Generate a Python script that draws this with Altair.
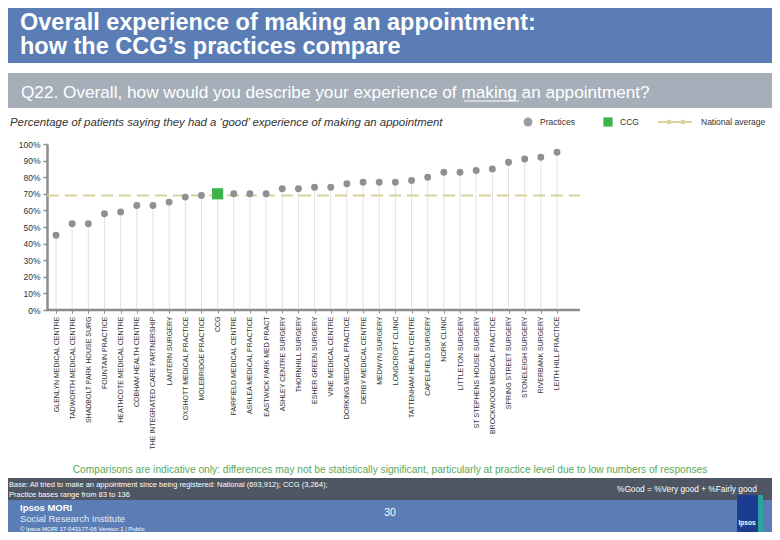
import altair as alt
import pandas as pd

# ---------------- data ----------------
names = [
    "GLENLYN MEDICAL CENTRE", "TADWORTH MEDICAL CENTRE", "SHADBOLT PARK HOUSE SURG",
    "FOUNTAIN PRACTICE", "HEATHCOTE MEDICAL CENTRE", "COBHAM HEALTH CENTRE",
    "THE INTEGRATED CARE PARTNERSHIP", "LANTERN SURGERY", "OXSHOTT MEDICAL PRACTICE",
    "MOLEBRIDGE PRACTICE", "CCG", "FAIRFIELD MEDICAL CENTRE", "ASHLEA MEDICAL PRACTICE",
    "EASTWICK PARK MED PRACT", "ASHLEY CENTRE SURGERY", "THORNHILL SURGERY",
    "ESHER GREEN SURGERY", "VINE MEDICAL CENTRE", "DORKING MEDICAL PRACTICE",
    "DERBY MEDICAL CENTRE", "MEDWYN SURGERY", "LONGCROFT CLINIC",
    "TATTENHAM HEALTH CENTRE", "CAPELFIELD SURGERY", "NORK CLINIC", "LITTLETON SURGERY",
    "ST STEPHENS HOUSE SURGERY", "BROCKWOOD MEDICAL PRACTICE", "SPRING STREET SURGERY",
    "STONELEIGH SURGERY", "RIVERBANK SURGERY", "LEITH HILL PRACTICE",
]
values = [45, 52, 52, 58, 59, 63, 63, 65, 68, 69, 70, 70, 70, 70, 73, 73,
          74, 74, 76, 77, 77, 77, 78, 80, 83, 83, 84, 85, 89, 91, 92, 95]
kinds = ["CCG" if n == "CCG" else "Practice" for n in names]
national_avg = 69
y_ticks = [0, 10, 20, 30, 40, 50, 60, 70, 80, 90, 100]

df = pd.DataFrame({"name": names, "pct": values, "kind": kinds})
nat_df = pd.DataFrame({"pct": [national_avg]})
one = pd.DataFrame({"k": [0]})

FONT = "Liberation Sans"
GRAY_AX = "#8c8c8c"

x_enc = alt.X("name:N", sort=None,
              scale=alt.Scale(type="point", padding=0.557),
              axis=alt.Axis(title=None, labelAngle=270, labelFontSize=7, labelColor="#333333",
                            labelFont=FONT, labelPadding=3, labelLimit=300, labelOverlap=False,
                            domain=False, ticks=True, tickColor=GRAY_AX, tickSize=3))
y_axis = alt.Axis(title=None, values=y_ticks,
                  labelExpr="datum.value + '%'", grid=False, labelOverlap=False,
                  domainColor=GRAY_AX, domainWidth=2.5, tickColor=GRAY_AX,
                  tickSize=4, tickWidth=1.5, labelFontSize=8.5, labelColor="#333333",
                  labelFont=FONT, labelPadding=3)
y_enc = alt.Y("pct:Q", scale=alt.Scale(domain=[0, 100]), axis=y_axis)

base = alt.Chart(df)

drops = base.mark_rule(color="#e2e2e2", strokeWidth=1).encode(
    x=x_enc, y=y_enc, y2=alt.datum(0))

nat_line = alt.Chart(nat_df).mark_rule(color="#d9d29c", strokeWidth=2, strokeDash=[12, 6]).encode(
    y=y_enc, x=alt.value(0), x2=alt.value(533))

x_axis_line = alt.Chart(one).mark_rule(color=GRAY_AX, strokeWidth=2.5).encode(
    x=alt.value(0), x2=alt.value(533), y=alt.value(166))

practices = base.transform_filter("datum.kind == 'Practice'").mark_circle(
    color="#8d9096", opacity=1, size=48).encode(x=x_enc, y=y_enc)
ccg = base.transform_filter("datum.kind == 'CCG'").mark_square(
    color="#3cb44b", opacity=1, size=125).encode(x=x_enc, y=y_enc)


def rect(x1, x2, y1, y2, color):
    return alt.Chart(one).mark_rect(color=color).encode(
        x=alt.value(x1), x2=alt.value(x2), y=alt.value(y1), y2=alt.value(y2))


def txt(s, x, y, size, color="#ffffff", align="left", baseline="alphabetic", **kw):
    return alt.Chart(one).mark_text(text=s, align=align, baseline=baseline, fontSize=size,
                                    color=color, font=FONT, **kw).encode(
        x=alt.value(x), y=alt.value(y))


deco = [
    # header
    rect(-47, 733, -144, -81, "#5a7db5"),
    txt("Overall experience of making an appointment:", -27, -114, 23.5, fontWeight="bold"),
    txt("how the CCG\u2019s practices compare", -27, -90, 23.5, fontWeight="bold"),
    rect(-47, 733, -71, -36, "#a5aeb9"),
    txt("Q22. Overall, how would you describe your experience of making an appointment?",
        -26, -46, 17.2),
    alt.Chart(one).mark_rule(color="#ffffff", strokeWidth=1.2).encode(
        x=alt.value(417), x2=alt.value(472), y=alt.value(-43)),
    txt("Percentage of patients saying they had  a \u2018good\u2019 experience of making an appointment",
        -37, -18, 11.4, color="#333333", fontStyle="italic"),
    # legend
    alt.Chart(one).mark_circle(color="#9a9da3", size=80, opacity=1).encode(
        x=alt.value(481), y=alt.value(-22)),
    txt("Practices", 493, -22, 8.5, color="#333333", baseline="middle"),
    alt.Chart(one).mark_square(color="#3cb44b", size=85, opacity=1).encode(
        x=alt.value(561), y=alt.value(-22)),
    txt("CCG", 573, -22, 8.5, color="#333333", baseline="middle"),
    alt.Chart(one).mark_rule(color="#d9d29c", strokeWidth=2).encode(
        x=alt.value(611), x2=alt.value(645), y=alt.value(-22)),
    alt.Chart(one).mark_square(color="#d9d29c", size=18, opacity=1).encode(
        x=alt.value(622), y=alt.value(-22)),
    alt.Chart(one).mark_square(color="#d9d29c", size=18, opacity=1).encode(
        x=alt.value(636), y=alt.value(-22)),
    txt("National average", 654, -22, 8.5, color="#333333", baseline="middle"),
    # footer
    txt("Comparisons are indicative only: differences may not be statistically significant, "
        "particularly at practice level due to low numbers of responses",
        343, 329, 10.2, color="#5aa85c", align="center"),
    rect(-47, 733, 334, 356, "#4d5662"),
    txt("Base: All tried to make an appointment since being registered: National (693,912); CCG (3,264);",
        -38, 343, 7.5),
    txt("Practice bases range from 83 to 136", -38, 353, 7.5),
    txt("%Good = %Very good + %Fairly good", 570, 348, 8.3),
    rect(-47, 733, 356, 400, "#5a7db5"),
    txt("Ipsos MORI", -27, 367, 9.5, fontWeight="bold"),
    txt("Social Research Institute", -27, 378, 9.5, color="#e6ecf5"),
    txt("\u00a9 Ipsos MORI     17-043177-06 Version 1 | Public", -27, 387, 6),
    txt("30", 343, 372, 10.5, align="center"),
    rect(690, 715, 351, 388, "#1c3d8f"),
    rect(711, 716, 351, 388, "#2aa6a0"),
    txt("Ipsos", 700, 381, 6.5, align="center", fontWeight="bold"),
]

chart = alt.layer(
    *deco[:7], drops, nat_line, x_axis_line, practices, ccg, *deco[7:]
).properties(
    width=519, height=166,
    padding={"left": 39, "top": 136, "right": 206, "bottom": 222},
    autosize=alt.AutoSizeParams(type="none"),
    background="#ffffff",
).configure_view(stroke=None)

chart.save("out.html", embed_options={"renderer": "svg", "actions": False})
